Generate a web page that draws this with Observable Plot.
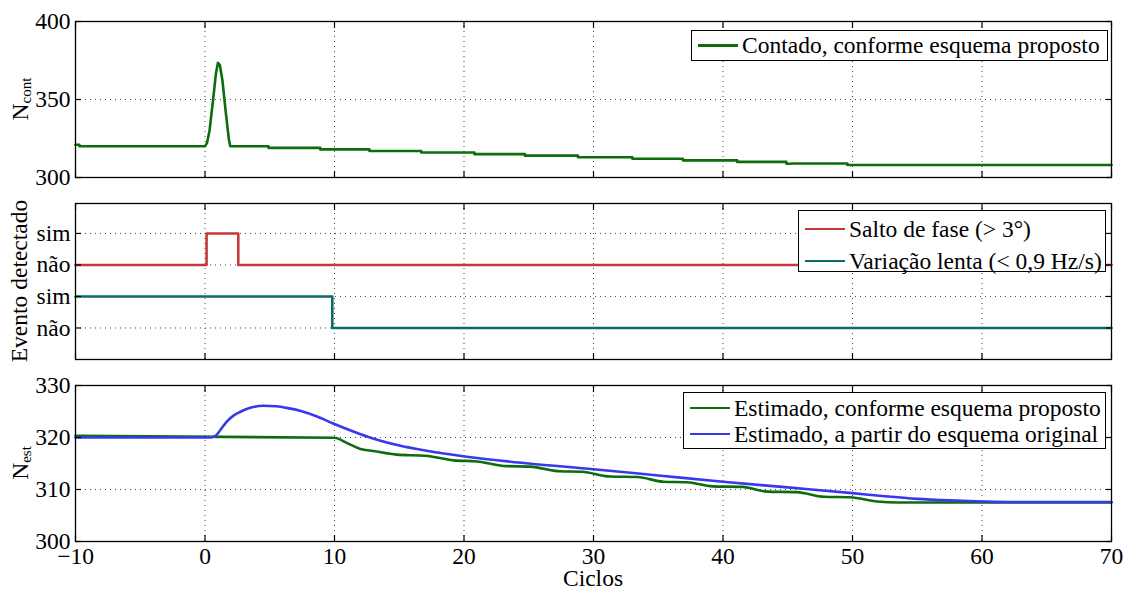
<!DOCTYPE html>
<html>
<head>
<meta charset="utf-8">
<script src="https://cdn.jsdelivr.net/npm/d3@7"></script>
<script src="https://cdn.jsdelivr.net/npm/@observablehq/plot@0.6"></script>
<style>
  body { margin: 0; background: #fff; }
  #chart { position: relative; width: 1132px; height: 592px; font-family: "Liberation Serif", "DejaVu Serif", "Noto Serif", "Nimbus Roman", Tinos, FreeSerif, serif; color: #000; }
  #chart > svg { display: block; }
  .legend { position: absolute; box-sizing: border-box; background: #fff; border: 1.3px solid #000; font-size: 23.5px; white-space: nowrap; }
  .legend .row { display: flex; align-items: center; }
  .legend .swatch { width: 40px; height: 2.6px; margin: 0 4px 0 6px; flex: none; }
  #titles { position: absolute; left: 0; top: 0; pointer-events: none; }
</style>
</head>
<body>
<div id="chart"></div>
<script>
// Shared x axis (cycles)
const xTicks = [-10, 0, 10, 20, 30, 40, 50, 60, 70];

// Top panel: counted N (proposed scheme)
const contX = [-10, -9.7, -9.7, 0, 0.15, 0.35, 0.6, 0.85, 1.0, 1.15, 1.35, 1.6, 1.85, 1.95,
  4.9, 4.9, 8.9, 8.9, 12.7, 12.7, 16.7, 16.7, 20.8, 20.8, 24.7, 24.7, 28.8, 28.8,
  33.0, 33.0, 36.9, 36.9, 41.1, 41.1, 44.9, 44.9, 45.3, 45.3, 49.6, 49.6, 70];
const contY = [321, 321, 320, 320, 322, 330, 348, 367, 373.5, 372, 362, 342, 324, 320,
  320, 319, 319, 318, 318, 317, 317, 316, 316, 315, 315, 314, 314, 313,
  313, 312, 312, 311, 311, 310, 310, 308.8, 308.8, 309, 309, 308, 308];
const contTicks = [300, 350, 400];

// Middle panel: detected events (two stacked binary traces)
const eventTicks = [0, 1, 2, 3];
const eventTickLabels = ["não", "sim", "não", "sim"];
const phaseX = [-10, 0.12, 2.57, 70];
const phaseY = [2, 3, 2, 2];
const slowX = [-10, 9.83, 70];
const slowY = [1, 0, 0];

// Bottom panel: estimated N
const estTicks = [300, 310, 320, 330];
const propX = [-10, 10, 11, 12, 13, 14.8, 17, 19.2, 21, 23.3, 25.1, 27.4, 29.1, 31.3, 33.4,
  35.4, 37.2, 39.2, 41.5, 43.4, 45.7, 47.8, 49.8, 51.9, 53.5, 70];
const propY = [320.35, 319.95, 318.9, 317.8, 317.4, 316.7, 316.5, 315.6, 315.4, 314.5, 314.4,
  313.5, 313.4, 312.5, 312.4, 311.5, 311.4, 310.6, 310.5, 309.6, 309.5, 308.6, 308.5, 307.7, 307.5, 307.5];
const origX = [-10, 0.4, 0.8, 1.2, 1.7, 2.2, 2.7, 3.5, 4.5, 5.5, 6.5, 7.4, 8.7, 9.9, 11.2, 12.5,
  15.1, 17, 20.2, 25, 30, 35, 40, 45, 50, 52.5, 55, 57.5, 60, 62, 70];
const origY = [320.0, 320.0, 320.3, 321.5, 323.1, 324.2, 324.9, 325.7, 326.1, 326.0, 325.6, 325.1,
  324.0, 322.7, 321.4, 320.2, 318.4, 317.5, 316.3, 315.0, 313.9, 312.7, 311.5, 310.4, 309.3,
  308.7, 308.2, 307.9, 307.7, 307.6, 307.6];

const GREEN = "#0b6d0b", RED = "#c33a3a", TEAL = "#0a6b6b", BLUE = "#3838ee";
const FONT = "'Liberation Serif', 'DejaVu Serif', 'Noto Serif', 'Nimbus Roman', Tinos, FreeSerif, serif";
const W = 1132, ML = 75, MR = 21;

function line(xs, ys, stroke, curve = "linear") {
  return Plot.line({length: xs.length}, {x: xs, y: ys, stroke, strokeWidth: 2.6, curve});
}

function panel({height, marginTop, marginBottom, yDomain, yTicks, yFormat, xLabels, marks}) {
  const grid = {stroke: "#444", strokeOpacity: 1, strokeWidth: 1, strokeDasharray: "1,4"};
  const tick = {tickSize: -6, fill: "none", label: null, strokeWidth: 1.2};
  return Plot.plot({
    width: W, height, marginLeft: ML, marginRight: MR, marginTop, marginBottom,
    style: {fontFamily: FONT, fontSize: "23.5px", color: "#000", background: "none", overflow: "visible"},
    x: {domain: [-10, 70]},
    y: {domain: yDomain},
    marks: [
      Plot.gridX(xTicks, grid),
      Plot.gridY(yTicks, grid),
      ...marks,
      Plot.frame({stroke: "#000", strokeWidth: 1.3}),
      Plot.axisX(xTicks, {anchor: "bottom", ...tick}),
      Plot.axisX(xTicks, {anchor: "top", ...tick}),
      Plot.axisY(yTicks, {anchor: "left", ...tick}),
      Plot.axisY(yTicks, {anchor: "right", ...tick}),
      Plot.axisY(yTicks, {anchor: "left", tickSize: 0, tickPadding: 5, tickFormat: yFormat, label: null}),
      xLabels ? Plot.axisX(xTicks, {anchor: "bottom", tickSize: 0, tickPadding: 6, label: null}) : null
    ]
  });
}

const chart = document.getElementById("chart");

chart.append(panel({
  height: 190, marginTop: 21, marginBottom: 13,
  yDomain: [300, 400], yTicks: contTicks,
  marks: [line(contX, contY, GREEN)]
}));

chart.append(panel({
  height: 181, marginTop: 13, marginBottom: 12,
  yDomain: [-1, 3.95], yTicks: eventTicks,
  yFormat: (d, i) => eventTickLabels[i],
  marks: [line(phaseX, phaseY, RED, "step-after"), line(slowX, slowY, TEAL, "step-after")]
}));

chart.append(panel({
  height: 221, marginTop: 14, marginBottom: 51,
  yDomain: [300, 330], yTicks: estTicks, xLabels: true,
  marks: [line(propX, propY, GREEN, "monotone-x"), line(origX, origY, BLUE, "monotone-x")]
}));

// Axis titles
const titles = d3.select(chart).append("svg")
  .attr("id", "titles").attr("width", W).attr("height", 592)
  .style("font-family", FONT).style("font-size", "23.5px");

function yTitle(x, y, main, sub) {
  const t = titles.append("text")
    .attr("transform", `translate(${x},${y}) rotate(-90)`)
    .attr("text-anchor", "middle");
  t.append("tspan").text(main);
  if (sub) t.append("tspan").attr("dy", 3).style("font-size", "15px").text(sub);
}
yTitle(28, 99, "N", "cont");
yTitle(27, 281, "Evento detectado");
yTitle(28, 463, "N", "est");
titles.append("text").attr("x", 593).attr("y", 586).attr("text-anchor", "middle").text("Ciclos");

// Legends
function legend({left, top, width, height, rowH, padTop}, rows) {
  const box = d3.select(chart).append("div").attr("class", "legend")
    .style("left", left + "px").style("top", top + "px")
    .style("width", width + "px").style("height", height + "px")
    .style("padding-top", padTop + "px");
  for (const [label, color] of rows) {
    const r = box.append("div").attr("class", "row").style("height", rowH + "px");
    r.append("span").attr("class", "swatch").style("background", color);
    r.append("span").text(label);
  }
}
legend({left: 691, top: 30, width: 417, height: 31, rowH: 29, padTop: 0},
  [["Contado, conforme esquema proposto", GREEN]]);
legend({left: 798, top: 210, width: 308, height: 62, rowH: 32, padTop: 2},
  [["Salto de fase (> 3°)", RED], ["Variação lenta (< 0,9 Hz/s)", TEAL]]);
legend({left: 683, top: 392, width: 423, height: 57, rowH: 26, padTop: 2},
  [["Estimado, conforme esquema proposto", GREEN], ["Estimado, a partir do esquema original", BLUE]]);
</script>
</body>
</html>
